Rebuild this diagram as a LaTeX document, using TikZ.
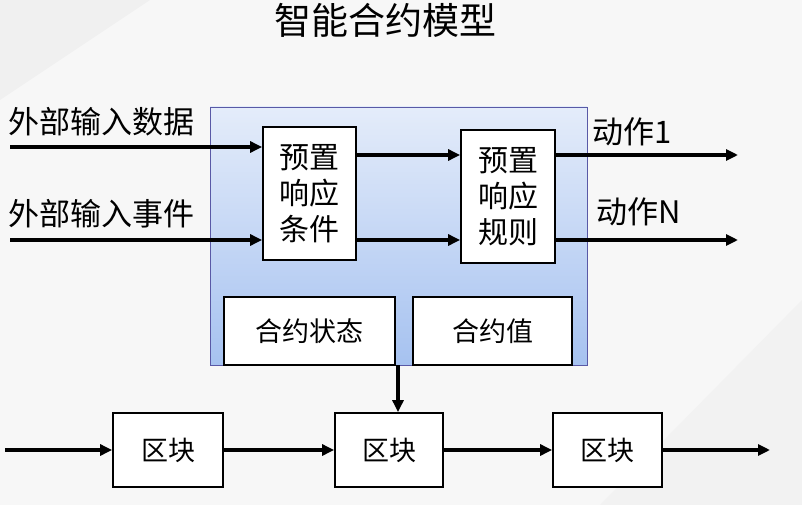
\documentclass[tikz,border=0pt]{standalone}
\usepackage{fontspec}
\setmainfont{Noto Sans CJK SC}
\usetikzlibrary{arrows.meta}
\definecolor{gtop}{HTML}{E4ECFA}
\definecolor{gbot}{HTML}{A6C2F0}
\begin{document}
\begin{tikzpicture}[x=1pt,y=-1pt,
  box/.style={draw=black,line width=1.8pt,fill=white,align=center,font=\fontsize{27}{33}\selectfont,inner sep=0pt},
  big/.style={font=\fontsize{30}{36}\selectfont},
  arr/.style={line width=3.2pt,-{Triangle[length=12pt,width=11pt]}},
  lbl/.style={font=\fontsize{31}{34}\selectfont,anchor=west,inner sep=0pt}]
\useasboundingbox (0,0) rectangle (802,505);
\fill[gray!6] (0,0) rectangle (802,505);
\fill[gray!12] (0,100) -- (150,0) -- (0,0) -- cycle;
\fill[gray!10] (600,505) -- (802,300) -- (802,505) -- cycle;
\node[font=\fontsize{37}{40}\selectfont] (title) at (385,20) {智能合约模型};
\shade[top color=gtop,bottom color=gbot] (210,107) rectangle (587,365);
\draw[gray!70!blue,line width=0.6pt] (210,107) rectangle (587,365);
\node[box,big,minimum width=93pt,minimum height=133pt] (c) at (309.5,193.5) {预置\\响应\\条件};
\node[box,big,minimum width=94pt,minimum height=133pt] (r) at (508,196.5) {预置\\响应\\规则};
\node[box,minimum width=171pt,minimum height=68pt] (s) at (309.5,331) {合约状态};
\node[box,minimum width=159pt,minimum height=68pt] (v) at (492.5,331) {合约值};
\node[lbl] (l1) at (8,122) {外部输入数据};
\node[lbl] (l2) at (8,214) {外部输入事件};
\node[lbl] (o1) at (592,132) {动作1};
\node[lbl] (o2) at (596,212) {动作N};
\coordinate (i1) at (10,147);
\coordinate (i2) at (10,240);
\coordinate (e1) at (738,155);
\coordinate (e2) at (738,240);
\draw[arr] (i1) -- (c.west |- i1);
\draw[arr] (i2) -- (c.west |- i2);
\draw[arr] (c.east |- e1) -- (r.west |- e1);
\draw[arr] (c.east |- e2) -- (r.west |- e2);
\draw[arr] (r.east |- e1) -- (e1);
\draw[arr] (r.east |- e2) -- (e2);
\node[box,minimum width=110pt,minimum height=74pt] (b1) at (168,450) {区块};
\node[box,minimum width=108pt,minimum height=74pt] (b2) at (389,450) {区块};
\node[box,minimum width=109pt,minimum height=74pt] (b3) at (607.5,450) {区块};
\coordinate (st) at (5,450);
\coordinate (en) at (770,450);
\coordinate (d0) at (398,365);
\draw[arr] (st) -- (b1);
\draw[arr] (b1) -- (b2);
\draw[arr] (b2) -- (b3);
\draw[arr] (b3) -- (en);
\draw[arr] (d0) -- (d0 |- b2.north);
\end{tikzpicture}
\end{document}
